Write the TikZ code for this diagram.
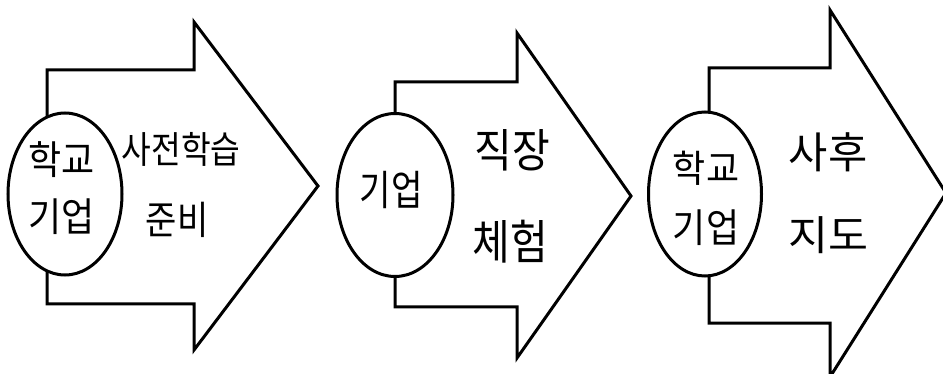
\documentclass[tikz,border=0pt]{standalone}
\usepackage{fontspec}
\usepackage{graphicx}
\newfontfamily\kr{Noto Sans CJK KR}
\tikzset{
  arrowshape/.style={draw=black, line width=3pt, line join=miter, fill=white},
  oval/.style={draw=black, line width=3pt, fill=white, ellipse, inner sep=0pt},
  etext/.style={inner sep=0pt, font=\kr\fontsize{36}{36}\selectfont},
  ltext/.style={inner sep=0pt, font=\kr\fontsize{34}{34}\selectfont},
  btext/.style={inner sep=0pt, font=\kr\fontsize{41}{41}\selectfont},
}
\usetikzlibrary{shapes.geometric}
\begin{document}
\begin{tikzpicture}[x=1pt,y=-1pt]
\useasboundingbox (0,0) rectangle (943,374);
\clip (0,0) rectangle (943,374);
\fill[white] (0,0) rectangle (943,374);
% arrow 1
\draw[arrowshape] (47,70) -- (194,70) -- (194,22) -- (318,186) -- (194,350) -- (194,304) -- (47,304) -- cycle;
% arrow 2
\draw[arrowshape] (395,82) -- (517,82) -- (517,33) -- (631,196) -- (517,358) -- (517,307) -- (395,307) -- cycle;
% arrow 3
\draw[arrowshape] (709,68) -- (830,68) -- (830,10) -- (946,193) -- (830,377) -- (830,323) -- (709,323) -- cycle;
% ellipses
\node[oval, minimum width=114pt, minimum height=162pt] (e1) at (65,194) {};
\node[oval, minimum width=116pt, minimum height=163pt] (e2) at (395,195) {};
\node[oval, minimum width=113pt, minimum height=164pt] (e3) at (705,194) {};
% texts
\node[etext] (e1a) at (62,160) {\scalebox{1}[1.1]{학교}};
\node[etext] (e1b) at (62,217) {\scalebox{1}[1.1]{기업}};
\node[ltext] (t1a) at (181,149) {\scalebox{0.95}[1.1]{사전학습}};
\node[ltext] (t1b) at (177,220) {\scalebox{1}[1.15]{준비}};
\node[etext] (e2a) at (391,190) {\scalebox{0.95}[1.15]{기업}};
\node[btext] (t2a) at (512,150) {\scalebox{1}[1.12]{직장}};
\node[btext] (t2b) at (510,242) {\scalebox{1.0}[1.15]{체험}};
\node[etext] (e3a) at (706,168) {\scalebox{1}[1.05]{학교}};
\node[etext] (e3b) at (706,228) {\scalebox{1}[1.1]{기업}};
\node[btext] (t3a) at (828,152) {\scalebox{1.04}[1.05]{사후}};
\node[btext] (t3b) at (828,235) {\scalebox{1.06}[1.0]{지도}};
\end{tikzpicture}
\end{document}
